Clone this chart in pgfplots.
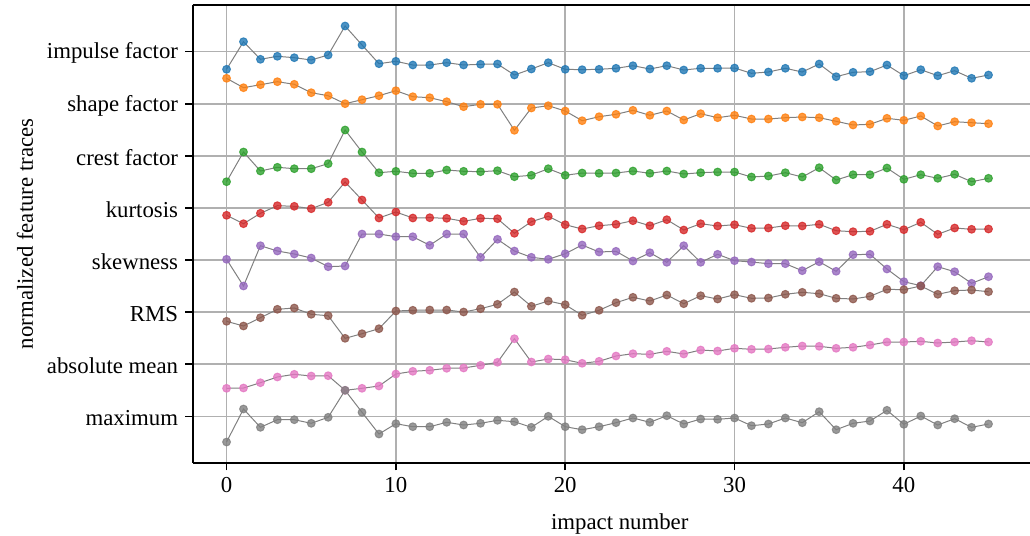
\documentclass[border=0pt]{standalone}
\usepackage{fontspec}
\setmainfont{Liberation Serif}
\usepackage{pgfplots}
\usepackage{pgfplotstable}
\pgfplotsset{compat=1.18}
\definecolor{tabblue}{HTML}{1F77B4}
\definecolor{taborange}{HTML}{FF7F0E}
\definecolor{tabgreen}{HTML}{2CA02C}
\definecolor{tabred}{HTML}{D62728}
\definecolor{tabpurple}{HTML}{9467BD}
\definecolor{tabbrown}{HTML}{8C564B}
\definecolor{tabpink}{HTML}{E377C2}
\definecolor{tabgray}{HTML}{7F7F7F}
\pgfplotstableread{
x imp shape crest kurt skew rms absm maxm
0 69.3 78.3 181.7 215.3 259.3 321.3 388.3 442.0
1 41.7 87.7 152.0 223.7 286.0 326.0 388.0 409.0
2 59.3 84.7 171.0 213.3 245.7 317.7 382.7 427.3
3 56.3 81.7 167.3 205.7 251.0 309.3 377.0 419.7
4 57.7 84.3 168.7 206.3 254.0 308.0 374.3 419.7
5 60.0 92.7 168.7 208.7 258.0 314.3 376.0 423.3
6 55.0 95.7 163.7 202.3 266.7 315.7 375.7 417.3
7 26.0 103.7 130.0 182.0 266.0 338.3 390.3 390.3
8 45.0 99.7 152.0 200.0 234.0 333.7 388.3 412.3
9 63.7 95.7 172.7 218.0 234.0 328.7 386.0 434.0
10 61.3 90.7 171.3 212.0 236.7 311.0 374.0 423.7
11 65.0 96.7 173.3 218.0 236.7 310.3 371.3 426.7
12 65.0 97.7 173.3 217.7 245.3 310.0 370.3 426.7
13 62.7 101.7 170.0 218.3 234.0 310.0 368.3 422.3
14 65.0 106.7 171.3 221.3 234.0 312.0 368.0 425.0
15 64.3 104.3 171.7 218.3 257.3 308.7 365.3 423.3
16 64.0 104.3 170.7 218.7 239.3 304.3 362.3 420.3
17 75.0 130.3 176.7 233.3 251.0 292.0 338.7 421.7
18 69.0 108.0 175.3 221.7 257.3 306.3 362.0 427.3
19 62.7 105.7 168.7 216.3 259.3 301.0 359.0 416.3
20 69.3 111.0 175.3 224.7 253.7 304.7 359.7 426.7
21 69.7 120.7 173.0 229.0 245.0 315.3 363.3 429.7
22 69.3 116.7 173.3 225.7 252.0 310.3 361.3 426.7
23 68.3 114.3 173.0 224.3 251.3 302.7 356.0 422.7
24 65.7 110.3 171.0 220.7 261.0 297.3 353.7 418.0
25 69.0 115.3 173.3 225.7 252.7 301.0 354.3 422.3
26 65.7 111.0 171.0 219.7 262.3 295.0 351.3 415.7
27 70.0 120.0 174.0 230.0 245.7 303.7 354.0 424.0
28 68.3 113.7 172.7 223.7 262.3 295.7 350.0 419.0
29 68.3 117.7 172.0 226.0 254.3 299.0 351.0 419.3
30 68.0 115.3 172.0 224.7 260.7 294.7 348.3 418.0
31 73.3 119.0 177.0 228.3 262.0 298.3 349.3 425.7
32 72.0 119.0 176.0 228.0 263.7 298.0 349.0 424.0
33 68.3 117.7 172.7 225.7 263.7 294.3 347.3 418.0
34 72.0 117.0 177.0 226.0 270.7 292.3 346.0 422.7
35 64.0 117.7 167.7 224.3 261.7 293.7 346.3 411.7
36 76.7 121.3 180.0 230.7 271.3 298.3 348.3 429.7
37 72.3 125.0 174.7 231.7 254.7 299.0 347.3 423.3
38 71.7 124.3 174.7 231.3 254.3 296.3 345.0 421.0
39 65.0 118.3 168.0 224.3 269.0 289.3 342.0 410.3
40 75.7 120.3 179.3 229.7 281.7 289.7 342.0 424.3
41 69.7 116.0 174.7 222.3 285.7 286.0 341.3 416.0
42 75.7 126.0 178.3 234.3 266.7 294.3 343.0 425.0
43 70.7 121.7 174.3 228.0 271.7 290.7 342.0 418.7
44 78.3 122.7 181.7 229.3 283.3 290.0 340.7 427.3
45 75.0 123.7 178.3 229.0 276.7 291.7 342.0 424.0
}\datatable
\pgfplotsset{
  feat/.style={color=black!50, line width=0.5pt, mark=*, mark size=1.95pt,
    mark options={solid, fill=#1, draw=#1, opacity=0.8}},
}
\begin{document}
\begin{tikzpicture}[font=\fontsize{11.4}{13.7}\selectfont]
\begin{axis}[
  scale only axis,
  width=418.65pt, height=228.85pt,
  xmin=-2.0, xmax=47.45,
  ymin=5, ymax=462.7,
  y dir=reverse,
  axis x line*=box, axis y line*=left,
  axis line style={line width=0.8pt, black},
  xtick={0,10,20,30,40},
  ytick={51.7,103.8,155.9,207.97,260.06,312.15,364.24,416.33},
  yticklabels={impulse factor, shape factor, crest factor, kurtosis, skewness, RMS, absolute mean, maximum},
  xtick pos=lower, ytick pos=left,
  tick align=outside,
  major tick length=3.8pt,
  every tick/.style={line width=0.8pt, black},
  tick label style={font=\fontsize{11.4}{13.7}\selectfont},
  yticklabel style={yshift=-0.8pt},
  label style={font=\fontsize{11.4}{13.7}\selectfont},
  /pgf/number format/assume math mode=true,
  grid=major,
  major grid style={color=black!31, line width=0.75pt},
  xlabel={impact number},
  ylabel={normalized feature traces},
  every axis x label/.style={at={(axis description cs:0.51,-0.147)}, anchor=base},
  every axis y label/.style={at={(axis description cs:-0.2003,0.5)}, rotate=90, anchor=center},
]
\addplot[feat=tabblue] table[x=x, y=imp] {\datatable};
\addplot[feat=taborange] table[x=x, y=shape] {\datatable};
\addplot[feat=tabgreen] table[x=x, y=crest] {\datatable};
\addplot[feat=tabred] table[x=x, y=kurt] {\datatable};
\addplot[feat=tabpurple] table[x=x, y=skew] {\datatable};
\addplot[feat=tabbrown] table[x=x, y=rms] {\datatable};
\addplot[feat=tabpink] table[x=x, y=absm] {\datatable};
\addplot[feat=tabgray] table[x=x, y=maxm] {\datatable};
\coordinate (sw) at (axis description cs:0,0);
\coordinate (ne) at (axis description cs:1,1);
\end{axis}
\pgfresetboundingbox
\path ([xshift=-96.35pt,yshift=-36.15pt]sw) rectangle ([yshift=2.5pt]ne);
\end{tikzpicture}
\end{document}
